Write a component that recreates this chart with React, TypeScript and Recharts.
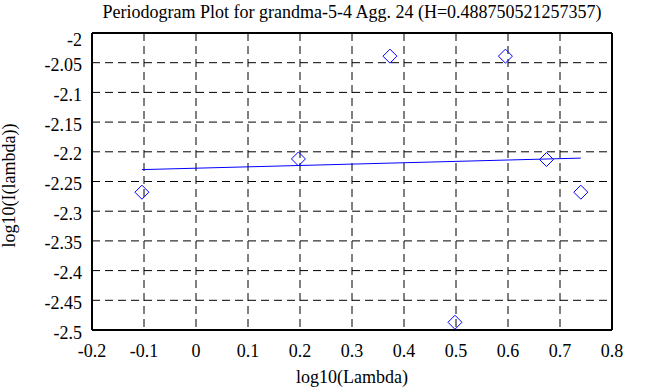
import { ScatterChart, Scatter, XAxis, YAxis, CartesianGrid, Label } from 'recharts'

const lambdaLog = [-0.104, 0.197, 0.373, 0.498, 0.595, 0.674, 0.74]
const periodLog = [-2.268, -2.212, -2.039, -2.487, -2.039, -2.213, -2.268]
const fitLambda = [-0.104, 0.74]
const fitPeriod = [-2.23, -2.2106]
const xTicks = [-0.2, -0.1, 0, 0.1, 0.2, 0.3, 0.4, 0.5, 0.6, 0.7, 0.8]
const yTicks = [-2, -2.05, -2.1, -2.15, -2.2, -2.25, -2.3, -2.35, -2.4, -2.45, -2.5]

const FONT = '"Liberation Serif", "Times New Roman", serif'
const BLUE = '#0000ff'
const textStyle = { fontFamily: FONT, fontSize: 18 }

const points = lambdaLog.map((x, i) => ({ x, y: periodLog[i] }))
const fit = fitLambda.map((x, i) => ({ x, y: fitPeriod[i] }))

function Diamond({ cx, cy }: any) {
  const r = 7
  return (
    <path
      d={`M${cx},${cy - r}L${cx + r},${cy}L${cx},${cy + r}L${cx - r},${cy}Z`}
      fill="none"
      stroke={BLUE}
      strokeWidth={1}
    />
  )
}

function XTick({ x, y, payload }: any) {
  return (
    <text x={x} y={y} dy={27} textAnchor="middle" style={textStyle} fill="#000">
      {payload.value}
    </text>
  )
}

function YTick({ x, y, payload }: any) {
  // top label sits a little lower, as in the original
  const dy = payload.value === -2 ? 13 : 8.5
  return (
    <text x={x} y={y} dy={dy} textAnchor="end" style={textStyle} fill="#000">
      {payload.value}
    </text>
  )
}

function YLabel({ viewBox }: any) {
  const cx = 15
  const cy = viewBox.y + viewBox.height / 2 + 4
  return (
    <text
      x={cx}
      y={cy}
      transform={`rotate(-90, ${cx}, ${cy})`}
      textAnchor="middle"
      style={textStyle}
      fill="#000"
    >
      log10(I(lambda))
    </text>
  )
}

function XLabel({ viewBox }: any) {
  return (
    <text x={viewBox.x + viewBox.width / 2} y={383} textAnchor="middle" style={textStyle} fill="#000">
      log10(Lambda)
    </text>
  )
}

const border = { stroke: '#000', strokeWidth: 2 }

export default function App() {
  return (
    <div style={{ position: 'absolute', left: 0, top: 0, width: 668, height: 387, background: '#fff' }}>
      <div
        style={{
          position: 'absolute',
          left: 352,
          top: 2,
          transform: 'translateX(-50%)',
          whiteSpace: 'nowrap',
          fontFamily: FONT,
          fontSize: 18,
          color: '#000',
        }}
      >
        Periodogram Plot for grandma-5-4 Agg. 24 (H=0.488750521257357)
      </div>
      <ScatterChart width={668} height={387} margin={{ top: 33, right: 56, bottom: 0, left: 0 }}>
        <CartesianGrid xAxisId="x" yAxisId="y" stroke="#000" strokeDasharray="8 5" />
        <XAxis
          xAxisId="x"
          dataKey="x"
          type="number"
          domain={[-0.2, 0.8]}
          ticks={xTicks}
          height={57}
          axisLine={border}
          tickLine={false}
          tickSize={0}
          tickMargin={0}
          tick={<XTick />}
        >
          <Label content={<XLabel />} />
        </XAxis>
        <XAxis
          xAxisId="xm"
          type="number"
          domain={[-0.2, 0.8]}
          ticks={xTicks}
          mirror
          height={1}
          axisLine={false}
          tickLine={border}
          tickSize={7}
          tick={false}
        />
        <XAxis
          xAxisId="xt"
          orientation="top"
          type="number"
          domain={[-0.2, 0.8]}
          ticks={xTicks}
          mirror
          height={1}
          axisLine={border}
          tickLine={border}
          tickSize={7}
          tick={false}
        />
        <YAxis
          yAxisId="y"
          dataKey="y"
          type="number"
          domain={[-2.5, -2]}
          ticks={yTicks}
          width={92}
          axisLine={border}
          tickLine={false}
          tickSize={0}
          tickMargin={10}
          tick={<YTick />}
        >
          <Label content={<YLabel />} />
        </YAxis>
        <YAxis
          yAxisId="ym"
          type="number"
          domain={[-2.5, -2]}
          ticks={yTicks}
          mirror
          width={1}
          axisLine={false}
          tickLine={border}
          tickSize={7}
          tick={false}
        />
        <YAxis
          yAxisId="yr"
          orientation="right"
          type="number"
          domain={[-2.5, -2]}
          ticks={yTicks}
          mirror
          width={1}
          axisLine={border}
          tickLine={border}
          tickSize={7}
          tick={false}
        />
        <Scatter
          xAxisId="x"
          yAxisId="y"
          data={fit}
          line={{ stroke: BLUE, strokeWidth: 1 }}
          shape={() => <g />}
          isAnimationActive={false}
        />
        <Scatter
          xAxisId="x"
          yAxisId="y"
          data={points}
          shape={<Diamond />}
          isAnimationActive={false}
        />
      </ScatterChart>
    </div>
  )
}
